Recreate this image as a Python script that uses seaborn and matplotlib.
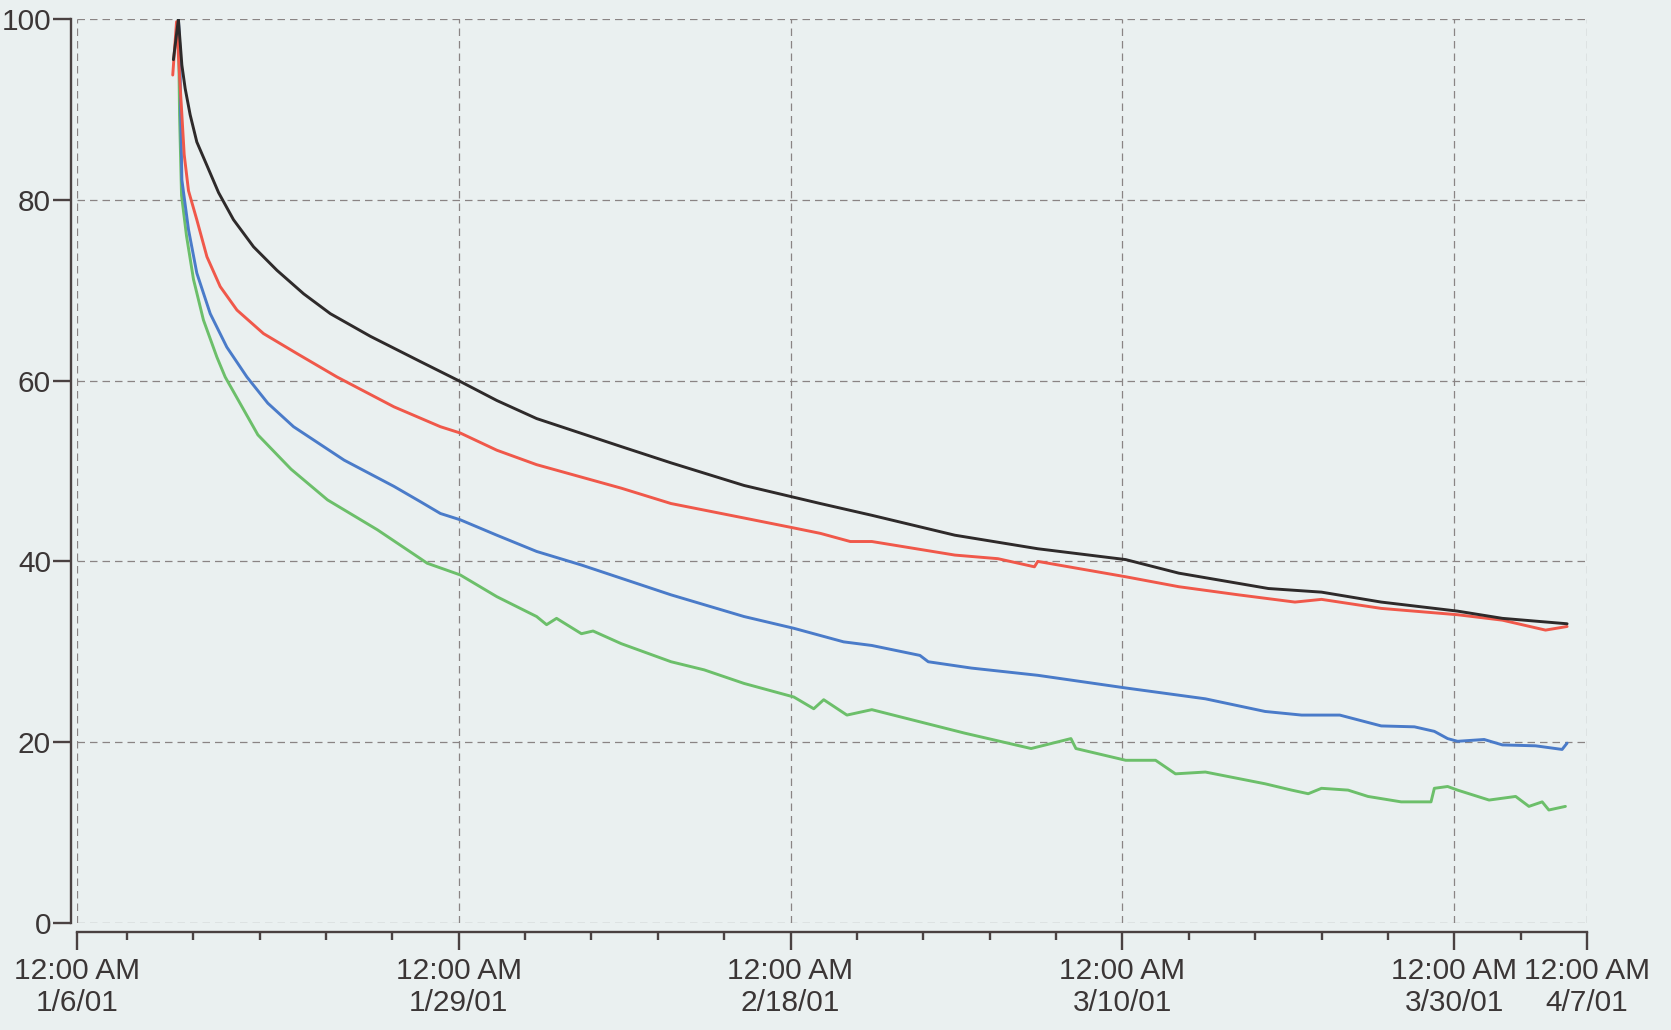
import matplotlib
matplotlib.use('Agg')
import matplotlib.pyplot as plt
import numpy as np
import pandas as pd
import seaborn as sns

# ---------------- data (day offsets from 1/6/01 00:00) -------------
START = pd.Timestamp('2001-01-06')

black_days = [5.81, 6.11, 6.32, 6.52, 6.82, 7.22, 7.83, 8.53, 9.43, 10.64, 12.05, 13.66, 15.27,
              17.68, 20.7, 23.1, 25.3, 27.7, 32.8, 35.8, 40.2, 44.8, 47.9, 52.9, 57.9, 63.2,
              66.4, 71.8, 75.0, 78.6, 83.2, 85.9, 89.8]
black_vals = [95.5, 100.0, 94.9, 92.3, 89.4, 86.4, 83.8, 80.8, 77.8, 74.8, 72.2, 69.6, 67.4,
              64.9, 62.1, 59.9, 57.8, 55.8, 52.7, 50.9, 48.4, 46.4, 45.1, 42.9, 41.4, 40.2,
              38.7, 37.0, 36.6, 35.5, 34.5, 33.7, 33.1]

red_days = [5.77, 6.0, 6.2, 6.32, 6.46, 6.72, 7.22, 7.83, 8.63, 9.64, 11.24, 13.25, 15.67, 19.1,
            21.9, 23.1, 25.3, 27.7, 32.8, 35.8, 40.2, 43.2, 44.8, 46.6, 47.9, 52.9, 55.5, 57.7,
            57.9, 63.2, 66.4, 70.0, 73.4, 75.0, 78.6, 83.2, 85.9, 88.5, 89.8]
red_vals = [93.8, 99.7, 93.1, 89.4, 85.0, 81.0, 77.8, 73.7, 70.4, 67.8, 65.2, 63.0, 60.4, 57.1,
            54.9, 54.2, 52.3, 50.7, 48.1, 46.4, 44.8, 43.7, 43.1, 42.2, 42.2, 40.7, 40.3, 39.4,
            40.0, 38.3, 37.2, 36.3, 35.5, 35.8, 34.8, 34.1, 33.5, 32.4, 32.8]

blue_days = [6.11, 6.2, 6.25, 6.32, 6.72, 7.22, 8.03, 9.03, 10.24, 11.5, 13.05, 16.1, 19.1, 20.7,
             21.9, 23.1, 25.3, 27.7, 30.4, 35.8, 40.2, 43.2, 46.2, 47.9, 50.8, 51.3, 53.9, 57.9,
             63.2, 68.0, 71.6, 73.8, 76.1, 78.6, 80.6, 81.8, 82.6, 83.2, 84.8, 85.9, 87.9, 89.5,
             89.8]
blue_vals = [100.0, 96.8, 89.4, 82.2, 76.7, 71.9, 67.4, 63.7, 60.4, 57.5, 54.9, 51.2, 48.3, 46.6,
             45.3, 44.6, 42.9, 41.1, 39.6, 36.3, 33.9, 32.6, 31.1, 30.7, 29.6, 28.9, 28.2, 27.4,
             26.0, 24.8, 23.4, 23.0, 23.0, 21.8, 21.7, 21.2, 20.4, 20.1, 20.3, 19.7, 19.6, 19.2,
             19.9]

green_days = [6.11, 6.18, 6.3, 6.6, 7.02, 7.62, 8.43, 8.93, 10.9, 12.9, 15.1, 18.1, 20.7, 21.1,
              23.1, 25.3, 27.7, 28.3, 28.9, 30.4, 31.1, 32.8, 35.8, 37.8, 40.2, 43.2, 44.4, 45.0,
              46.4, 47.9, 53.5, 57.5, 59.9, 60.2, 63.2, 65.0, 66.2, 68.0, 71.6, 73.2, 74.2, 75.0,
              76.6, 77.8, 79.8, 81.6, 81.8, 82.6, 83.2, 85.1, 86.7, 87.5, 88.3, 88.7, 89.7]
green_vals = [100.0, 89.4, 80.5, 76.0, 71.2, 66.7, 62.6, 60.4, 54.0, 50.2, 46.8, 43.5, 40.3, 39.8,
              38.5, 36.1, 33.9, 33.0, 33.7, 32.0, 32.3, 30.9, 28.9, 28.0, 26.5, 25.0, 23.7, 24.7,
              23.0, 23.6, 21.0, 19.3, 20.4, 19.3, 18.0, 18.0, 16.5, 16.7, 15.4, 14.7, 14.3, 14.9,
              14.7, 14.0, 13.4, 13.4, 14.9, 15.1, 14.7, 13.6, 14.0, 12.9, 13.4, 12.5, 12.9]

series_names = ['green', 'blue', 'red', 'black']
series_days = {'black': black_days, 'red': red_days, 'blue': blue_days, 'green': green_days}
series_vals = {'black': black_vals, 'red': red_vals, 'blue': blue_vals, 'green': green_vals}

x_tick_dates = ['2001-01-06', '2001-01-29', '2001-02-18', '2001-03-10', '2001-03-30', '2001-04-07']
x_tick_labels = ['12:00 AM\n1/6/01', '12:00 AM\n1/29/01', '12:00 AM\n2/18/01',
                 '12:00 AM\n3/10/01', '12:00 AM\n3/30/01', '12:00 AM\n4/7/01']
y_ticks = [0, 20, 40, 60, 80, 100]

# ---------------- styling ----------------
BG = '#EAF0F0'
TEXT = '#3b3636'
SPINE = '#4a4141'
palette = {'black': '#2e2a2a', 'red': '#F0584A', 'blue': '#4A7BC9', 'green': '#6CBF6A'}

frames = []
for name in series_names:
    frames.append(pd.DataFrame({
        'time': START + pd.to_timedelta(np.array(series_days[name]), unit='D'),
        'value': series_vals[name],
        'series': name,
    }))
df = pd.concat(frames, ignore_index=True)

sns.set_theme(style='ticks')
plt.rcParams['font.family'] = ['Liberation Sans', 'DejaVu Sans']

fig = plt.figure(figsize=(16.71, 10.30), dpi=100, facecolor=BG)
ax = fig.add_axes([77 / 1671, 107 / 1030, 1510 / 1671, 904 / 1030])
ax.set_facecolor(BG)

sns.lineplot(data=df, x='time', y='value', hue='series', hue_order=series_names,
             palette=palette, estimator=None, sort=False, legend=False,
             linewidth=2.1, ax=ax)

ax.set_xlim(pd.Timestamp('2001-01-06'), pd.Timestamp('2001-04-07'))
ax.set_ylim(0, 100)
ax.set_xticks(pd.to_datetime(x_tick_dates))
ax.set_xticklabels(x_tick_labels)
ax.set_xticks(pd.date_range('2001-01-09', '2001-04-03', freq='4D'), minor=True)
ax.set_yticks(y_ticks)
ax.set_yticklabels([str(v) for v in y_ticks])
ax.set_xlabel('')
ax.set_ylabel('')

ax.grid(True, which='major', color='#8a8484', linestyle=(0, (6, 4)), linewidth=0.9)
ax.set_axisbelow(True)

for s in ['top', 'right']:
    ax.spines[s].set_visible(False)
ax.spines['left'].set_position(('outward', 4.3))
ax.spines['bottom'].set_position(('outward', 6.5))
for s in ['left', 'bottom']:
    ax.spines[s].set_color(SPINE)
    ax.spines[s].set_linewidth(1.7)

ax.tick_params(axis='x', which='major', length=13, width=1.7, pad=5, labelsize=21.5,
               color=SPINE, labelcolor=TEXT)
ax.tick_params(axis='x', which='minor', length=6, width=1.7, color=SPINE)
ax.tick_params(axis='y', which='major', length=13, width=1.7, pad=1.5, labelsize=21.5,
               color=SPINE, labelcolor=TEXT)

fig.savefig('out.png', dpi=100, facecolor=BG)
